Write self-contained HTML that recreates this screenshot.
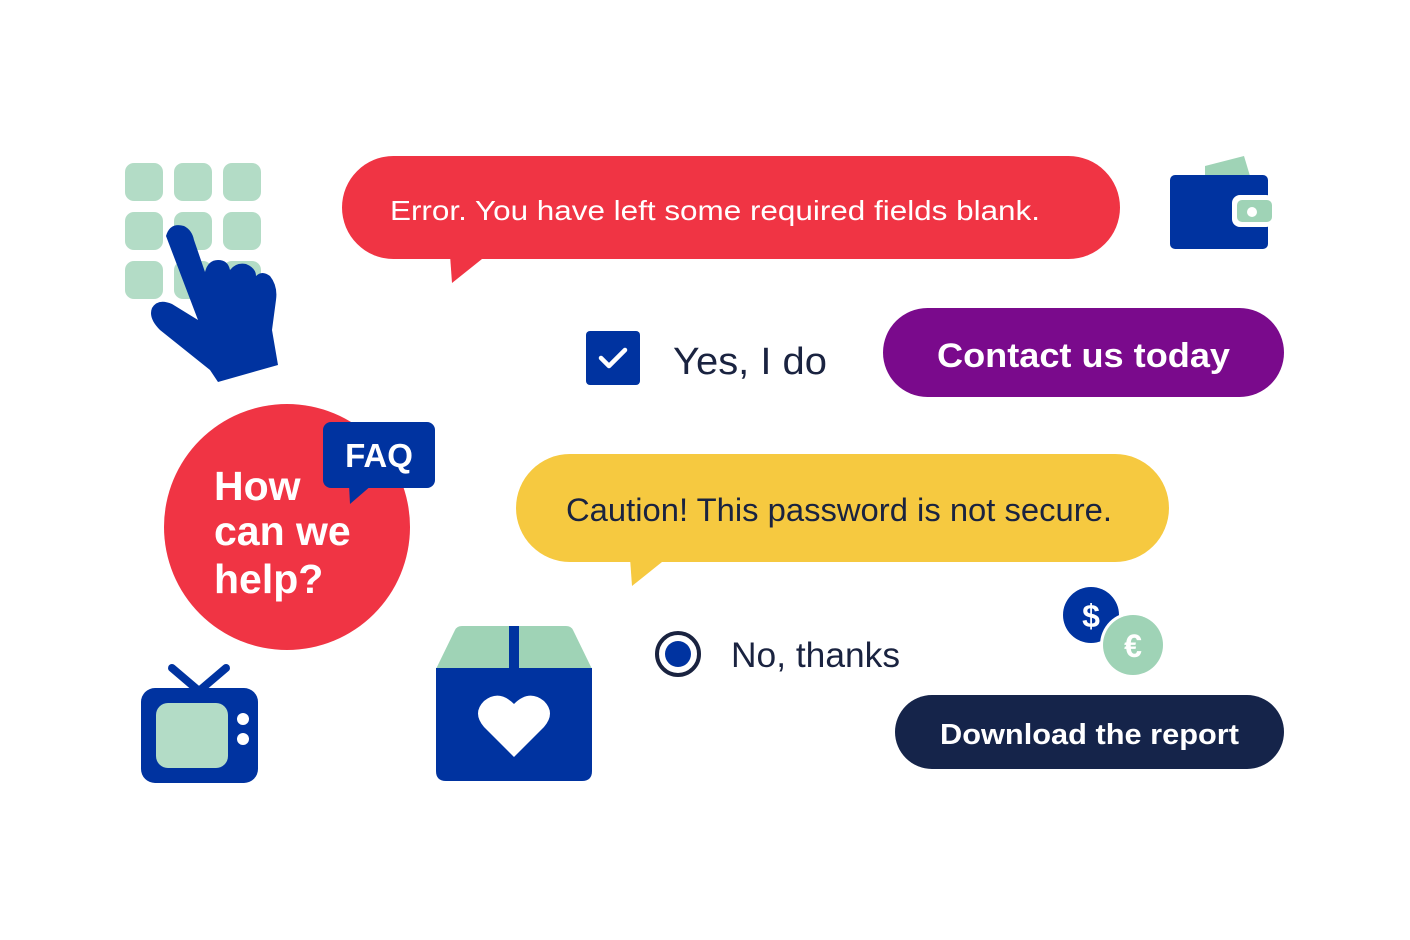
<!DOCTYPE html>
<html><head><style>
body{margin:0;background:#fff;}
svg{display:block}
text{font-family:"Liberation Sans",sans-serif;}
</style></head><body>
<svg width="1410" height="940" viewBox="0 0 1410 940" xmlns="http://www.w3.org/2000/svg">
<rect width="1410" height="940" fill="#fff"/>
<!-- keypad -->
<g fill="#b3dcc6">
<rect x="125" y="163" width="38" height="38" rx="9"/><rect x="174" y="163" width="38" height="38" rx="9"/><rect x="223" y="163" width="38" height="38" rx="9"/>
<rect x="125" y="212" width="38" height="38" rx="9"/><rect x="174" y="212" width="38" height="38" rx="9"/><rect x="223" y="212" width="38" height="38" rx="9"/>
<rect x="125" y="261" width="38" height="38" rx="9"/><rect x="174" y="261" width="38" height="38" rx="9"/><rect x="223" y="261" width="38" height="38" rx="9"/>
</g>
<!-- hand -->
<path fill="#0033a0" d="M166 236 Q170 222 184 226 Q192 230 194 240 L205 272 Q208 260 218 260 Q228 260 230 270 Q236 262 246 264 Q256 268 256 276 Q262 270 270 276 Q278 286 276 300 L272 330 L278 365 L218 382 L210 370 L160 330 Q148 318 152 308 Q158 298 172 304 L198 320 Z"/>
<!-- error bubble -->
<rect x="342" y="156" width="778" height="103" rx="51.5" fill="#f03444"/>
<path d="M450 255 L487 255 L452 283 Z" fill="#f03444"/>
<text x="390" y="220" font-size="28" fill="#fff" textLength="650" lengthAdjust="spacingAndGlyphs">Error. You have left some required fields blank.</text>
<!-- wallet -->
<path d="M1205 166 L1244 156 L1250 176 L1205 176Z" fill="#9fd3b6"/>
<rect x="1170" y="175" width="98" height="74" rx="5" fill="#0033a0"/>
<rect x="1232" y="195" width="42" height="32" rx="8" fill="#fff"/>
<rect x="1237" y="200" width="35" height="22" rx="5" fill="#9fd3b6"/>
<circle cx="1252" cy="212" r="5" fill="#fff"/>
<!-- checkbox -->
<rect x="586" y="331" width="54" height="54" rx="4" fill="#0033a0"/>
<path d="M601 358 L609 366 L625 350" stroke="#fff" stroke-width="4.5" fill="none" stroke-linecap="round" stroke-linejoin="round"/>
<text x="673" y="374" font-size="38" fill="#1a2340" textLength="154" lengthAdjust="spacingAndGlyphs">Yes, I do</text>
<!-- contact -->
<rect x="883" y="308" width="401" height="89" rx="44.5" fill="#7a0a8c"/>
<text x="937" y="367" font-size="34" font-weight="bold" fill="#fff" textLength="293" lengthAdjust="spacingAndGlyphs">Contact us today</text>
<!-- FAQ circle -->
<circle cx="287" cy="527" r="123" fill="#f03444"/>
<text font-size="41" font-weight="bold" fill="#fff"><tspan x="214" y="500">How</tspan><tspan x="214" y="545">can we</tspan><tspan x="214" y="593">help?</tspan></text>
<rect x="323" y="422" width="112" height="66" rx="8" fill="#0033a0"/>
<path d="M349 485 L372 485 L350 504 Z" fill="#0033a0"/>
<text x="379" y="467" font-size="33" font-weight="bold" fill="#fff" text-anchor="middle">FAQ</text>
<!-- caution -->
<rect x="516" y="454" width="653" height="108" rx="54" fill="#f6c940"/>
<path d="M630 558 L667 558 L632 586 Z" fill="#f6c940"/>
<text x="566" y="521" font-size="32" fill="#1a2340" textLength="546" lengthAdjust="spacingAndGlyphs">Caution! This password is not secure.</text>
<!-- radio -->
<circle cx="678" cy="654" r="21" fill="none" stroke="#1a2340" stroke-width="4"/>
<circle cx="678" cy="654" r="13" fill="#0033a0"/>
<text x="731" y="667" font-size="35" fill="#1a2340" textLength="169" lengthAdjust="spacingAndGlyphs">No, thanks</text>
<!-- coins -->
<circle cx="1091" cy="615" r="28" fill="#0033a0"/>
<text x="1091" y="627" font-size="32" font-weight="bold" fill="#fff" text-anchor="middle">$</text>
<circle cx="1133" cy="645" r="33" fill="#fff"/>
<circle cx="1133" cy="645" r="30" fill="#9fd3b6"/>
<text x="1133" y="657" font-size="32" font-weight="bold" fill="#fff" text-anchor="middle">€</text>
<!-- download -->
<rect x="895" y="695" width="389" height="74" rx="37" fill="#15244a"/>
<text x="940" y="744" font-size="29" font-weight="bold" fill="#fff" textLength="299" lengthAdjust="spacingAndGlyphs">Download the report</text>
<!-- TV -->
<path d="M172 668 L199 691 L226 668" stroke="#0033a0" stroke-width="8" fill="none" stroke-linecap="round" stroke-linejoin="round"/>
<rect x="141" y="688" width="117" height="95" rx="14" fill="#0033a0"/>
<rect x="156" y="703" width="72" height="65" rx="12" fill="#b3dcc6"/>
<circle cx="243" cy="719" r="6" fill="#fff"/>
<circle cx="243" cy="739" r="6" fill="#fff"/>
<!-- box -->
<path d="M436 669 L455 630 Q457 626 462 626 L566 626 Q571 626 573 630 L592 669 Z" fill="#9fd3b6"/>
<path d="M436 668 L592 668 L592 771 Q592 781 582 781 L446 781 Q436 781 436 771 Z" fill="#0033a0"/>
<rect x="509" y="626" width="10" height="44" fill="#0033a0"/>
<path d="M514 757 L484 727 Q472 713 484 701 Q499 689 514 704 Q529 689 544 701 Q556 713 544 727 Z" fill="#fff"/>
</svg>
</body></html>
